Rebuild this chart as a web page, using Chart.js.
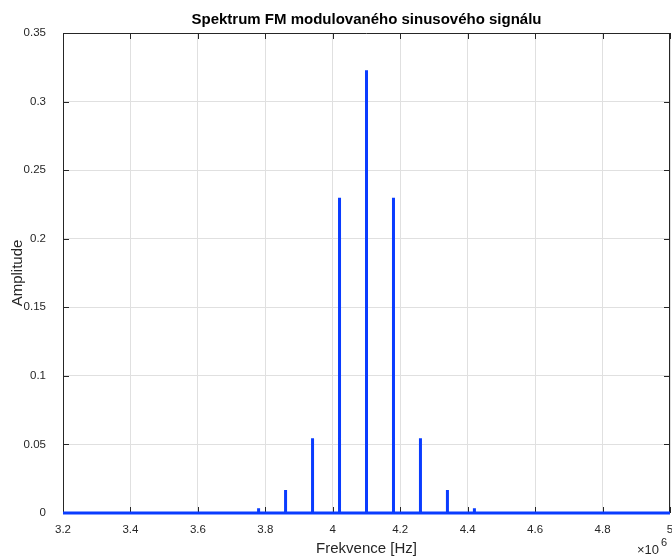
<!DOCTYPE html>
<html>
<head>
<meta charset="utf-8">
<script src="https://cdn.jsdelivr.net/npm/chart.js@4.4.1/dist/chart.umd.min.js"></script>
<style>
  html, body { margin: 0; padding: 0; background: #fff; }
  #wrap { width: 672px; height: 558px; position: relative; }
</style>
</head>
<body>
<div id="wrap"><canvas id="c" width="672" height="558"></canvas></div>
<script>
// Spectrum of an FM-modulated sine: carrier 4.1 MHz, sidebands every 80 kHz
const freqRange = [3.2e6, 5.0e6];
const sidebandFreqs = [3.78e6, 3.86e6, 3.94e6, 4.02e6, 4.10e6, 4.18e6, 4.26e6, 4.34e6, 4.42e6];
const sidebandAmps  = [0.0035, 0.0168, 0.0545, 0.2298, 0.3228, 0.2298, 0.0545, 0.0168, 0.0035];
const xTicks = [3.2, 3.4, 3.6, 3.8, 4.0, 4.2, 4.4, 4.6, 4.8, 5.0];
const yTicks = [0, 0.05, 0.1, 0.15, 0.2, 0.25, 0.3, 0.35];

const titleText = 'Spektrum FM modulovaného sinusového signálu';
const xLabel = 'Frekvence [Hz]';
const yLabel = 'Amplitude';

// spectrum trace: flat floor with a vertical line at each spectral component
const points = [{ x: freqRange[0], y: 0 }];
sidebandFreqs.forEach((f, i) => {
  points.push({ x: f, y: 0 }, { x: f, y: sidebandAmps[i] }, { x: f, y: 0 });
});
points.push({ x: freqRange[1], y: 0 });

const FONT = '"Liberation Sans", Arial, Helvetica, sans-serif';
const AXIS = '#262626';
const GRID = '#e0e0e0';

// box, inward tick marks and text labels drawn around the plot area
const frame = {
  id: 'frame',
  beforeDatasetsDraw(chart) {
    const { ctx, chartArea: a, scales: { x, y } } = chart;
    ctx.save();
    ctx.strokeStyle = AXIS;
    ctx.lineWidth = 1;
    ctx.beginPath();
    ctx.rect(Math.round(a.left) + 0.5, Math.round(a.top) + 0.5,
             Math.round(a.right - a.left) - 1, Math.round(a.bottom - a.top));
    ctx.stroke();
    const len = 6;
    ctx.beginPath();
    x.ticks.forEach(t => {
      const px = Math.round(x.getPixelForValue(t.value)) + 0.5;
      ctx.moveTo(px, a.bottom); ctx.lineTo(px, a.bottom - len);
      ctx.moveTo(px, a.top); ctx.lineTo(px, a.top + len);
    });
    y.ticks.forEach(t => {
      const py = Math.round(y.getPixelForValue(t.value)) + 0.5;
      ctx.moveTo(a.left, py); ctx.lineTo(a.left + len, py);
      ctx.moveTo(a.right, py); ctx.lineTo(a.right - len, py);
    });
    ctx.stroke();
    ctx.restore();
  },
  afterDraw(chart) {
    const { ctx, chartArea: a } = chart;
    ctx.save();
    ctx.fillStyle = '#000';
    ctx.textAlign = 'center';
    ctx.textBaseline = 'alphabetic';
    ctx.font = 'bold 15px ' + FONT;
    ctx.fillText(titleText, (a.left + a.right) / 2, 24);
    ctx.fillStyle = AXIS;
    ctx.font = '15px ' + FONT;
    ctx.fillText(xLabel, (a.left + a.right) / 2, 553);
    ctx.save();
    ctx.translate(22, (a.top + a.bottom) / 2);
    ctx.rotate(-Math.PI / 2);
    ctx.fillText(yLabel, 0, 0);
    ctx.restore();
    // axis exponent
    ctx.textAlign = 'left';
    ctx.font = '13px ' + FONT;
    ctx.fillText('\u00d710', 637, 554);
    ctx.font = '11px ' + FONT;
    ctx.fillText('6', 661, 546);
    ctx.restore();
  }
};

new Chart(document.getElementById('c'), {
  type: 'line',
  data: {
    datasets: [{
      data: points,
      borderColor: '#0a3cff',
      borderWidth: 3,
      pointRadius: 0,
      tension: 0,
      borderJoinStyle: 'bevel',
      clip: false
    }]
  },
  options: {
    responsive: false,
    animation: false,
    events: [],
    layout: { padding: { left: 0, right: 2, top: 33, bottom: 0 } },
    plugins: { legend: { display: false }, tooltip: { enabled: false } },
    scales: {
      x: {
        type: 'linear',
        min: freqRange[0], max: freqRange[1],
        afterBuildTicks(s) { s.ticks = xTicks.map(v => ({ value: v * 1e6 })); },
        afterFit(s) { s.height = 45; s.paddingLeft = 0; s.paddingRight = 0; },
        border: { display: false },
        grid: { color: GRID, drawTicks: false },
        ticks: {
          padding: 10,
          maxRotation: 0,
          autoSkip: false,
          color: AXIS,
          font: { family: FONT, size: 11.5 },
          callback: v => String(+(v / 1e6).toFixed(1))
        }
      },
      y: {
        min: 0, max: 0.35,
        afterBuildTicks(s) { s.ticks = yTicks.map(v => ({ value: v })); },
        afterFit(s) { s.width = 63; s.paddingTop = 0; s.paddingBottom = 0; },
        border: { display: false },
        grid: { color: GRID, drawTicks: false },
        ticks: {
          padding: 17,
          autoSkip: false,
          color: AXIS,
          font: { family: FONT, size: 11.5 },
          callback: v => String(+v.toFixed(2))
        }
      }
    }
  },
  plugins: [frame]
});
</script>
</body>
</html>
